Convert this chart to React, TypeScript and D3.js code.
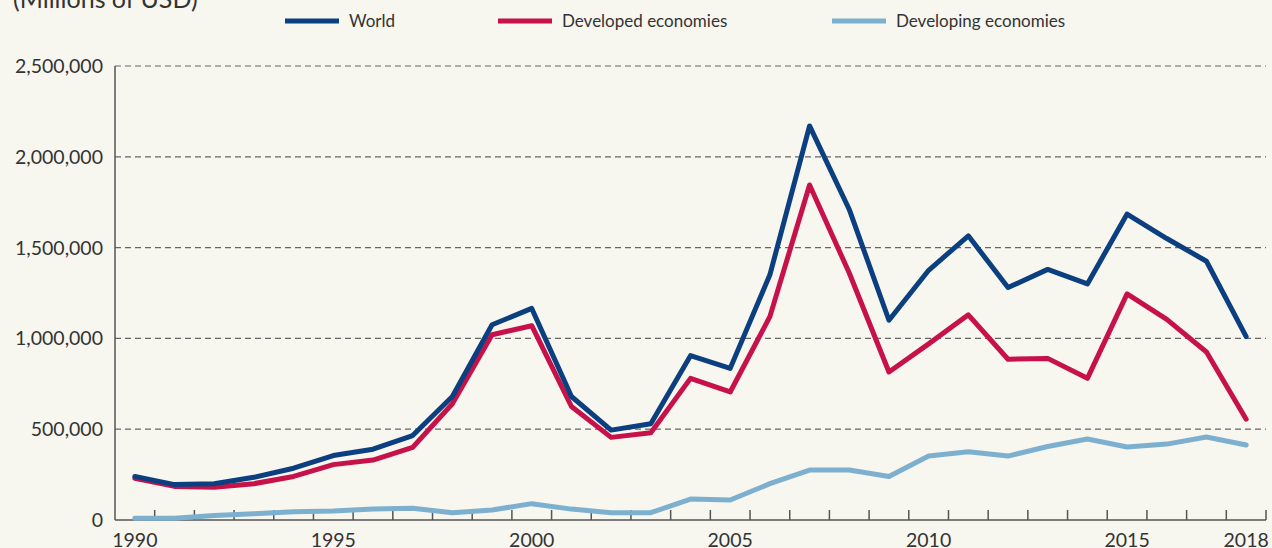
import * as d3 from "d3";

const years = d3.range(1990, 2019);

// Millions of USD
const world = [
  240000, 195000, 200000, 235000, 285000, 355000, 390000, 465000, 680000, 1075000,
  1165000, 680000, 495000, 530000, 905000, 835000, 1350000, 2170000, 1710000, 1100000,
  1375000, 1565000, 1280000, 1380000, 1300000, 1685000, 1550000, 1425000, 1010000,
];
const developed = [
  230000, 185000, 180000, 200000, 240000, 305000, 330000, 400000, 640000, 1020000,
  1070000, 625000, 455000, 480000, 780000, 705000, 1120000, 1845000, 1360000, 815000,
  970000, 1130000, 885000, 890000, 780000, 1245000, 1105000, 925000, 555000,
];
const developing = [
  10000, 10000, 25000, 35000, 45000, 50000, 60000, 65000, 40000, 55000,
  90000, 60000, 40000, 40000, 115000, 110000, 200000, 275000, 275000, 240000,
  352000, 376000, 352000, 405000, 446000, 402000, 418000, 457000, 413000,
];

const seriesNames = ["World", "Developed economies", "Developing economies"];
const seriesColors = ["#0b3f7f", "#c6114a", "#7db0cf"];
const yTicks = [0, 500000, 1000000, 1500000, 2000000, 2500000];
const xLabels = [1990, 1995, 2000, 2005, 2010, 2015, 2018];

const W = 1272;
const H = 548;
const M = { top: 66, right: 6, bottom: 28, left: 115 };
const FONT = "Lato, 'Open Sans', sans-serif";

export default function App() {
  const x = d3
    .scaleLinear()
    .domain([1989.5, 2018.5])
    .range([M.left, W - M.right]);
  const y = d3
    .scaleLinear()
    .domain([0, 2500000])
    .range([H - M.bottom, M.top]);

  const line = d3
    .line<number>()
    .x((_, i) => x(years[i]))
    .y((d) => y(d));

  const data = [world, developed, developing];
  const tickYears = d3.range(1990.5, 2019, 1);
  const legendX = [285, 498, 832];

  return (
    <div style={{ position: "fixed", left: 0, top: 0 }}>
      <svg width={W} height={H} style={{ display: "block", background: "#f7f6ef" }}>
        <text x={13} y={8} fontFamily={FONT} fontSize={25} fill="#333">
          (Millions of USD)
        </text>

        {seriesNames.map((name, i) => (
          <g key={name}>
            <line
              x1={legendX[i]}
              x2={legendX[i] + 54}
              y1={21}
              y2={21}
              stroke={seriesColors[i]}
              strokeWidth={5}
            />
            <text
              x={legendX[i] + 64}
              y={26.5}
              fontFamily={FONT}
              fontSize={17}
              fill="#333"
            >
              {name}
            </text>
          </g>
        ))}

        {yTicks.slice(1).map((t) => (
          <line
            key={t}
            x1={M.left}
            x2={W - M.right}
            y1={y(t)}
            y2={y(t)}
            stroke="#666"
            strokeWidth={1.2}
            strokeDasharray="6,4"
          />
        ))}
        {yTicks.map((t) => (
          <text
            key={t}
            x={103}
            y={y(t) + 7}
            textAnchor="end"
            fontFamily={FONT}
            fontSize={19.5}
            fill="#333"
          >
            {d3.format(",")(t)}
          </text>
        ))}

        <line x1={M.left} x2={M.left} y1={M.top} y2={y(0)} stroke="#555" strokeWidth={1.5} />
        <line x1={M.left} x2={W - M.right} y1={y(0)} y2={y(0)} stroke="#555" strokeWidth={1.5} />
        {tickYears.map((t) => (
          <line
            key={t}
            x1={x(t)}
            x2={x(t)}
            y1={y(0)}
            y2={y(0) - 10}
            stroke="#555"
            strokeWidth={1.5}
          />
        ))}
        {xLabels.map((yr) => (
          <text
            key={yr}
            x={x(yr)}
            y={547}
            textAnchor="middle"
            fontFamily={FONT}
            fontSize={19.5}
            fill="#333"
          >
            {yr}
          </text>
        ))}

        {[2, 1, 0].map((i) => (
          <path
            key={i}
            d={line(data[i]) ?? ""}
            fill="none"
            stroke={seriesColors[i]}
            strokeWidth={5}
            strokeLinejoin="round"
            strokeLinecap="round"
          />
        ))}
      </svg>
    </div>
  );
}
